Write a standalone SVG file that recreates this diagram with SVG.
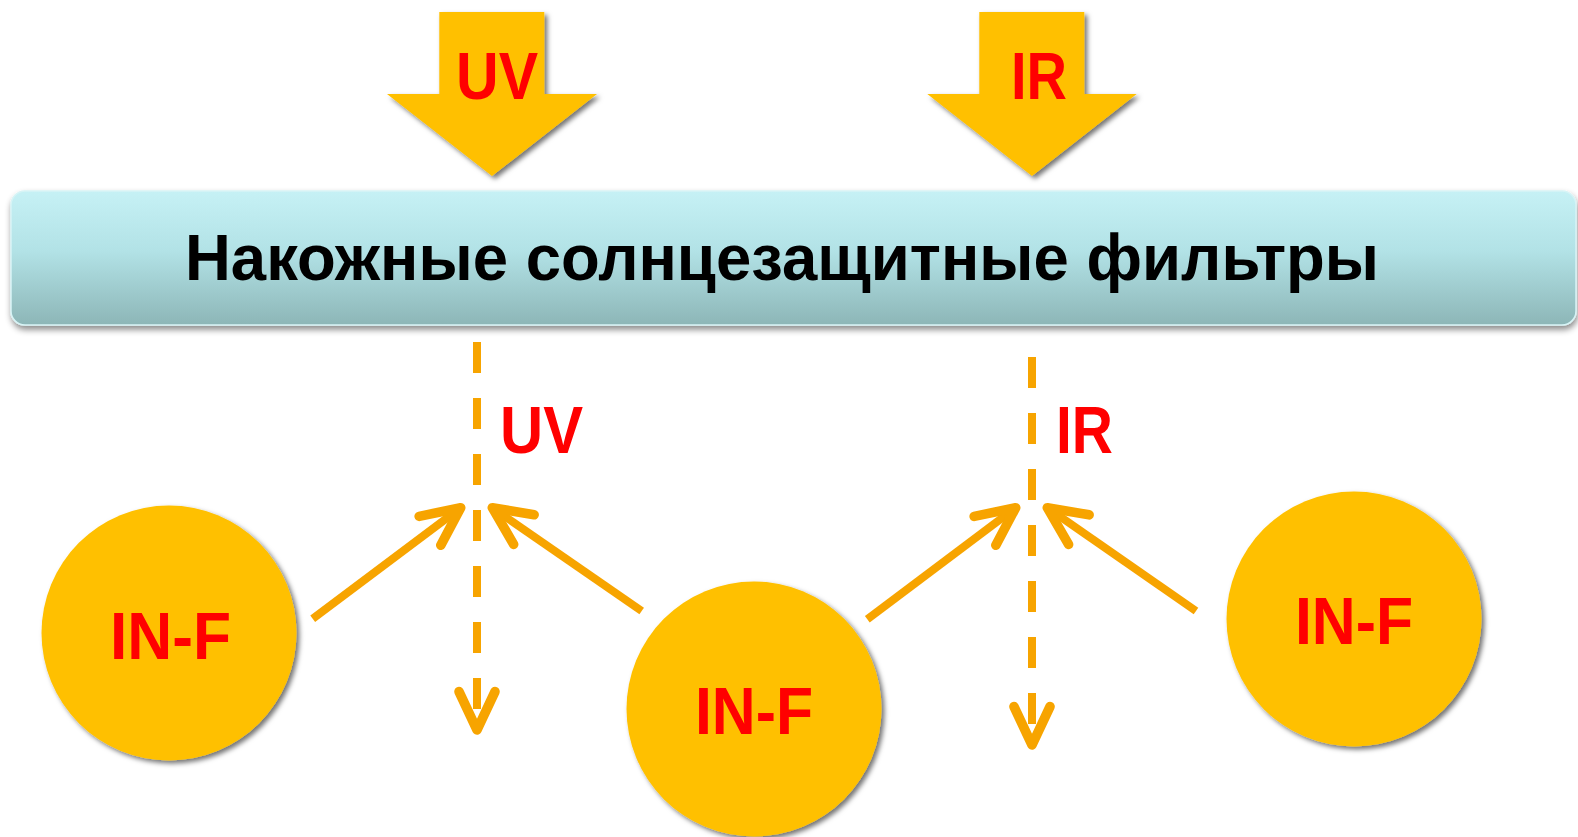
<svg xmlns="http://www.w3.org/2000/svg" width="1578" height="837" viewBox="0 0 1578 837">
  <defs>
    <linearGradient id="bannerGrad" x1="0" y1="0" x2="0" y2="1">
      <stop offset="0" stop-color="#c6f1f5"/>
      <stop offset="0.45" stop-color="#b2e2e6"/>
      <stop offset="1" stop-color="#8db6b7"/>
    </linearGradient>
    <filter id="shadow" x="-10%" y="-10%" width="125%" height="125%">
      <feDropShadow dx="3" dy="3" stdDeviation="2.5" flood-color="#000" flood-opacity="0.55"/>
    </filter>
    <filter id="bannerShadow" x="-5%" y="-20%" width="110%" height="150%">
      <feDropShadow dx="1" dy="4" stdDeviation="3" flood-color="#000" flood-opacity="0.45"/>
    </filter>
    <marker id="open" markerUnits="userSpaceOnUse" markerWidth="60" markerHeight="60" viewBox="-40 -25 50 50" refX="0" refY="0" orient="auto" overflow="visible">
      <path d="M -32 -15 L 0 0 L -32 15" fill="none" stroke="#f7a400" stroke-width="8" stroke-linecap="round" stroke-linejoin="round" stroke-dasharray="none"/>
    </marker>
    <style>
      .bigarrow { fill: #ffc000; filter: url(#shadow); }
      .circle { fill: #ffc000; filter: url(#shadow); }
      .lbl { font-family: "Liberation Sans", Arial, sans-serif; font-weight: bold; font-size: 66px; fill: #ff0000; }
      .title { font-family: "Liberation Sans", Arial, sans-serif; font-weight: bold; font-size: 65px; fill: #000000; }
      .conn { fill: none; stroke: #f7a400; stroke-width: 8; }
      .dash { stroke-dasharray: 31 25; }
    </style>
  </defs>
  <rect width="1578" height="837" fill="#ffffff"/>

  <g id="uv-source">
    <polygon class="bigarrow" points="439.3,12 544.3,12 544.3,94 597,94 492,176 387,94 439.3,94"/>
    <text class="lbl" x="456" y="99" textLength="82" lengthAdjust="spacingAndGlyphs">UV</text>
  </g>
  <g id="ir-source">
    <polygon class="bigarrow" points="979.3,12 1084.3,12 1084.3,94 1136.7,94 1032,176 927.3,94 979.3,94"/>
    <text class="lbl" x="1011" y="99" textLength="56" lengthAdjust="spacingAndGlyphs">IR</text>
  </g>

  <g id="banner">
    <rect x="11" y="191" width="1565" height="134" rx="14" ry="14" fill="url(#bannerGrad)" stroke="#d7f4f6" stroke-width="1.5" filter="url(#bannerShadow)"/>
    <text class="title" x="185" y="280" textLength="1194" lengthAdjust="spacingAndGlyphs">Накожные солнцезащитные фильтры</text>
  </g>

  <g id="connectors">
    <path class="conn dash" d="M477 342 L477 730" marker-end="url(#open)"/>
    <path class="conn dash" d="M1032 357 L1032 745" marker-end="url(#open)"/>
    <path class="conn" d="M312.7 618.7 L460.7 507.7" marker-end="url(#open)"/>
    <path class="conn" d="M641.7 611 L492.3 507.7" marker-end="url(#open)"/>
    <path class="conn" d="M867.3 619.3 L1015.7 507.7" marker-end="url(#open)"/>
    <path class="conn" d="M1196 611 L1047.3 507.7" marker-end="url(#open)"/>
  </g>

  <g id="uv-label">
    <text class="lbl" x="500" y="452.5" textLength="83" lengthAdjust="spacingAndGlyphs">UV</text>
  </g>
  <g id="ir-label">
    <text class="lbl" x="1056" y="452.5" textLength="57" lengthAdjust="spacingAndGlyphs">IR</text>
  </g>

  <g id="inf-left">
    <circle class="circle" cx="169" cy="633" r="127.5"/>
    <text class="lbl" x="110" y="659" textLength="121" lengthAdjust="spacingAndGlyphs">IN-F</text>
  </g>
  <g id="inf-middle">
    <circle class="circle" cx="754" cy="709" r="127.5"/>
    <text class="lbl" x="695" y="734" textLength="118" lengthAdjust="spacingAndGlyphs">IN-F</text>
  </g>
  <g id="inf-right">
    <circle class="circle" cx="1354" cy="619" r="127.5"/>
    <text class="lbl" x="1295" y="644" textLength="118" lengthAdjust="spacingAndGlyphs">IN-F</text>
  </g>
</svg>
